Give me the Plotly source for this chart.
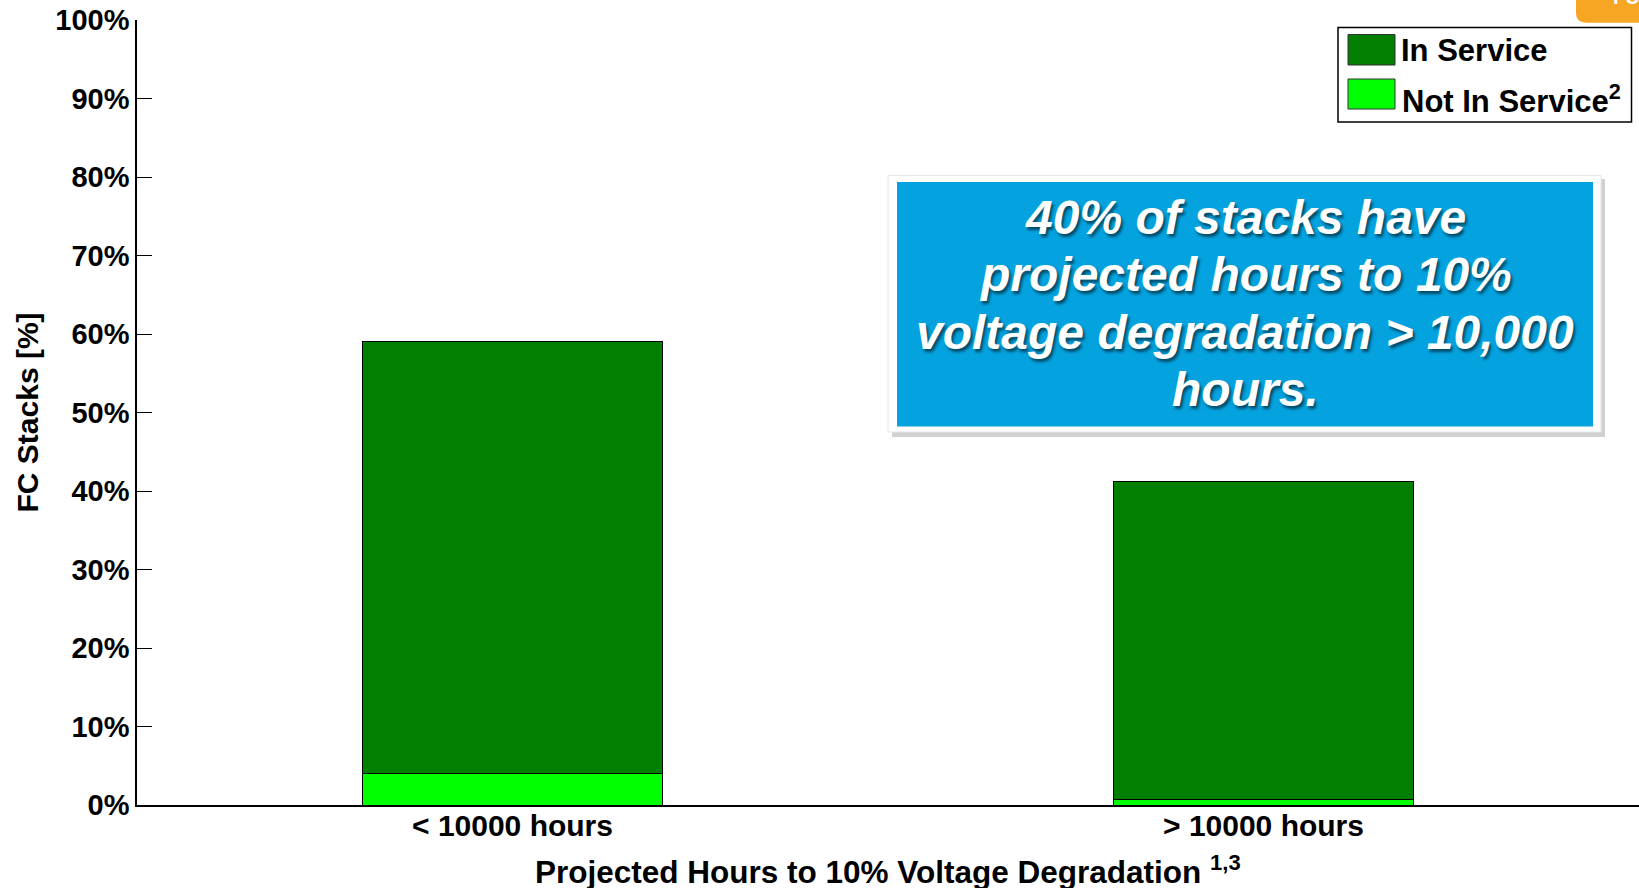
import plotly.graph_objects as go

# ---- data ----
categories = ["< 10000 hours", "> 10000 hours"]
not_in_service = [4.0, 0.7]
in_service = [55.0, 40.5]
series_names = ["In Service", "Not In Service"]
y_ticks = [0, 10, 20, 30, 40, 50, 60, 70, 80, 90, 100]
y_tick_labels = [f"{v}%" for v in y_ticks]

W, H = 1639, 888
ML, MR, MT, MB = 137, 0, 20, 83
PW = W - ML - MR
PH = H - MT - MB

def px(x):
    return (x - ML) / PW

def py(y):
    return (H - MB - y) / PH

FONT = "Liberation Sans, Arial, sans-serif"
DARK = "#007F00"
LIGHT = "#00FF00"

xpos = list(range(len(categories)))
esc = lambda s: s.replace("<", "&lt;").replace(">", "&gt;")

fig = go.Figure()
fig.add_trace(go.Bar(x=xpos, y=not_in_service, name=series_names[1], width=0.4,
                     marker=dict(color=LIGHT, line=dict(color="black", width=1))))
fig.add_trace(go.Bar(x=xpos, y=in_service, name=series_names[0], width=0.4,
                     marker=dict(color=DARK, line=dict(color="black", width=1))))

shapes = []
annotations = []

# custom legend
shapes.append(dict(type="rect", xref="paper", yref="paper", x0=px(1338), x1=px(1631.5),
                   y0=py(122), y1=py(27.5), line=dict(color="black", width=1.5),
                   fillcolor="white", layer="above"))
shapes.append(dict(type="rect", xref="paper", yref="paper", x0=px(1348), x1=px(1395),
                   y0=py(65), y1=py(34.5), line=dict(color="#333", width=1),
                   fillcolor=DARK, layer="above"))
shapes.append(dict(type="rect", xref="paper", yref="paper", x0=px(1348), x1=px(1395),
                   y0=py(109), y1=py(79), line=dict(color="#333", width=1),
                   fillcolor=LIGHT, layer="above"))
annotations.append(dict(xref="paper", yref="paper", x=px(1399), y=py(51), xanchor="left",
                        yanchor="middle", text=series_names[0], showarrow=False,
                        font=dict(family=FONT, size=31, color="black", weight="bold")))
annotations.append(dict(xref="paper", yref="paper", x=px(1400), y=py(99), xanchor="left",
                        yanchor="middle", text=series_names[1] + "<sup>2</sup>", showarrow=False,
                        font=dict(family=FONT, size=31, color="black", weight="bold")))

# callout box
shapes.append(dict(type="rect", xref="paper", yref="paper", x0=px(892), x1=px(1605),
                   y0=py(437), y1=py(179), line=dict(width=0),
                   fillcolor="rgba(0,0,0,0.18)", layer="above"))
shapes.append(dict(type="rect", xref="paper", yref="paper", x0=px(888), x1=px(1601),
                   y0=py(432), y1=py(175.5), line=dict(color="#e6e6e6", width=1),
                   fillcolor="white", layer="above"))
shapes.append(dict(type="rect", xref="paper", yref="paper", x0=px(897), x1=px(1593),
                   y0=py(426.5), y1=py(182), line=dict(width=0),
                   fillcolor="#04A3E0", layer="above"))
callout_lines = ["40% of stacks have", "projected hours to 10%",
                 "voltage degradation &gt; 10,000", "hours."]
for i, line in enumerate(callout_lines):
    annotations.append(dict(xref="paper", yref="paper", x=px(1245), y=py(217 + 57.5 * i),
                            xanchor="center", yanchor="middle", text=line, showarrow=False,
                            font=dict(family=FONT, size=48, color="white", weight="bold",
                                      style="italic", shadow="2px 3px 3px rgba(0,0,0,0.55)")))

# orange tab (cropped)
def pt(x, y):
    return f"{px(x):.5f},{py(y):.5f}"
shapes.append(dict(type="path", xref="paper", yref="paper",
                   path=f"M {pt(1576,-2)} L {pt(1576,13)} Q {pt(1576,22.7)} {pt(1586,22.7)} "
                        f"L {pt(1645,22.7)} L {pt(1645,-2)} Z",
                   line=dict(width=0), fillcolor="#F6A623", layer="above"))
annotations.append(dict(xref="paper", yref="paper", x=px(1611), y=py(10), xanchor="left",
                        yanchor="bottom", text="FUEL", showarrow=False,
                        font=dict(family=FONT, size=20, color="white", weight="bold")))

# axis titles
annotations.append(dict(xref="paper", yref="paper", x=px(27), y=0.5, xanchor="center",
                        yanchor="middle", textangle=-90, text="FC Stacks [%]", showarrow=False,
                        font=dict(family=FONT, size=30, color="black", weight="bold")))
annotations.append(dict(xref="paper", yref="paper", x=0.5, y=py(870), xanchor="center",
                        yanchor="middle",
                        text="Projected Hours to 10% Voltage Degradation&nbsp;<sup>1,3</sup>",
                        showarrow=False,
                        font=dict(family=FONT, size=31.5, color="black", weight="bold")))

fig.update_layout(
    width=W, height=H,
    margin=dict(l=ML, r=MR, t=MT, b=MB, pad=0),
    barmode="stack",
    showlegend=False,
    plot_bgcolor="white", paper_bgcolor="white",
    shapes=shapes, annotations=annotations,
    xaxis=dict(range=[-0.5, 1.5], tickmode="array", tickvals=xpos,
               ticktext=[esc(c) for c in categories],
               showline=True, linecolor="black", linewidth=1.5, ticks="", showgrid=False,
               zeroline=False, ticklabelstandoff=-7,
               tickfont=dict(family=FONT, size=30, color="black", weight="bold")),
    yaxis=dict(range=[0, 100], tickmode="array", tickvals=y_ticks, ticktext=y_tick_labels,
               showline=True,
               linecolor="black", linewidth=1.5, ticks="inside", ticklen=15, tickwidth=1,
               tickcolor="black", showgrid=False, zeroline=False, ticklabelstandoff=0,
               tickfont=dict(family=FONT, size=29, color="black", weight="bold")),
)

fig.write_html("out.html")
